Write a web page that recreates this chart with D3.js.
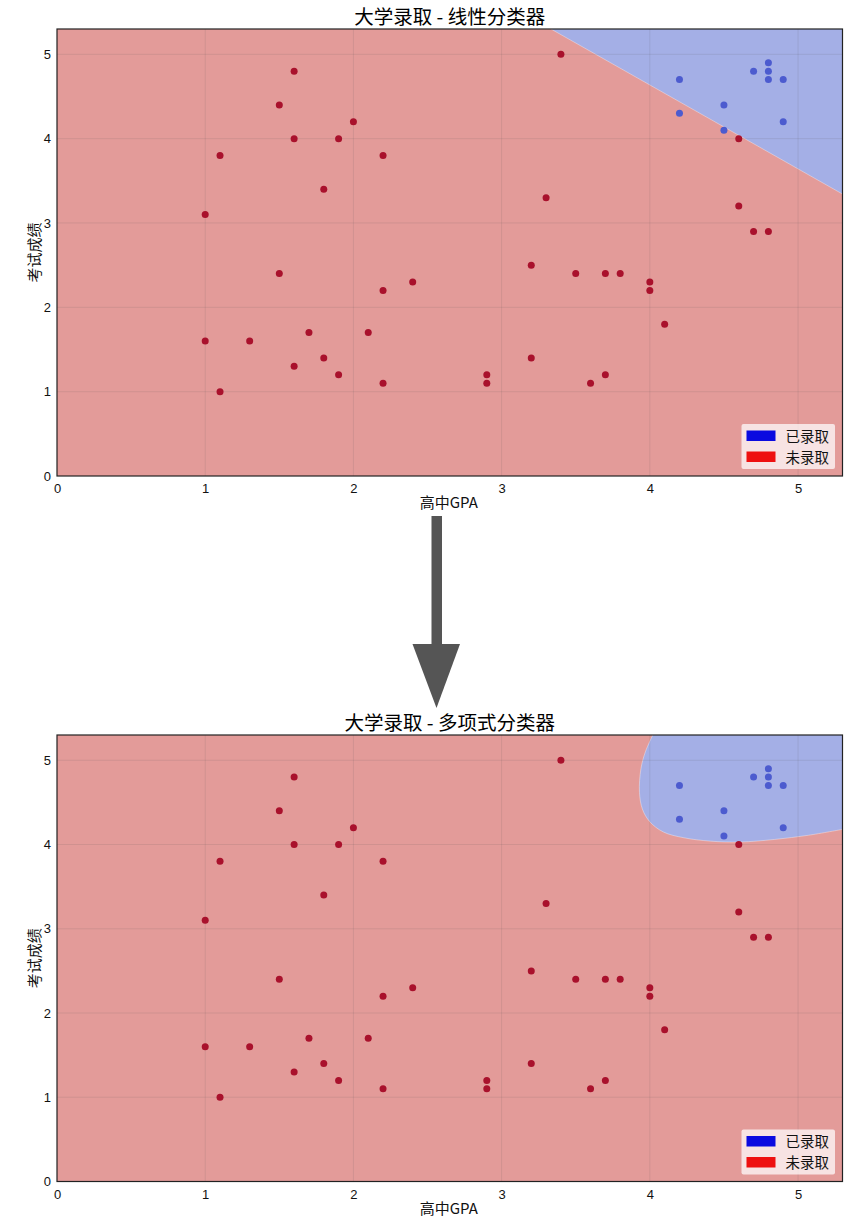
<!DOCTYPE html>
<html>
<head>
<meta charset="utf-8">
<script src="https://cdnjs.cloudflare.com/ajax/libs/d3/7.8.5/d3.min.js"></script>
<style>
  html, body { margin: 0; padding: 0; background: #fff; }
  svg { display: block; }
  text { font-family: "Noto Sans CJK SC", "Liberation Sans", sans-serif; }
</style>
</head>
<body>
<svg id="chart" width="864" height="1232"></svg>
<script>
// ---------------- Data ----------------
const rejectedGPA   = [1.6, 1.5, 2.0, 1.6, 1.9, 1.1, 2.2, 1.8, 1.0, 3.4, 3.3, 4.6, 4.6, 4.7, 4.8,
                       1.5, 2.2, 2.4, 1.0, 1.3, 1.7, 2.1, 1.8, 1.6, 1.9, 2.2, 1.1,
                       3.2, 3.5, 3.7, 3.8, 4.0, 4.0, 4.1, 3.2, 2.9, 2.9, 3.6, 3.7];
const rejectedScore = [4.8, 4.4, 4.2, 4.0, 4.0, 3.8, 3.8, 3.4, 3.1, 5.0, 3.3, 4.0, 3.2, 2.9, 2.9,
                       2.4, 2.2, 2.3, 1.6, 1.6, 1.7, 1.7, 1.4, 1.3, 1.2, 1.1, 1.0,
                       2.5, 2.4, 2.4, 2.4, 2.3, 2.2, 1.8, 1.4, 1.2, 1.1, 1.1, 1.2];
const admittedGPA   = [4.2, 4.2, 4.5, 4.5, 4.7, 4.8, 4.8, 4.8, 4.9, 4.9];
const admittedScore = [4.7, 4.3, 4.4, 4.1, 4.8, 4.9, 4.8, 4.7, 4.7, 4.2];

// decision boundaries: [GPA, score]
const linearBoundary = [[3.333, 5.3], [5.3, 3.343]];
const polyBoundary = [[4.02, 5.30], [3.97, 5.10], [3.94, 4.90], [3.93, 4.62], [3.95, 4.42],
                      [4.00, 4.27], [4.09, 4.15], [4.23, 4.08], [4.41, 4.04], [4.61, 4.03],
                      [4.84, 4.06], [5.07, 4.11], [5.30, 4.18]];

const xTicks = [0, 1, 2, 3, 4, 5];
const yTicks = [0, 1, 2, 3, 4, 5];
const titles = ["大学录取 - 线性分类器", "大学录取 - 多项式分类器"];
const xLabel = "高中GPA";
const yLabel = "考试成绩";
const legendLabels = ["已录取", "未录取"];
const domainMax = 5.3;

// ---------------- Drawing ----------------
const svg = d3.select("#chart");
const left = 57, right = 842.5;
const panels = [
  { top: 29, bottom: 476, boundary: linearBoundary, curve: d3.curveLinear, title: titles[0] },
  { top: 735, bottom: 1181.5, boundary: polyBoundary, curve: d3.curveCatmullRom, title: titles[1] }
];

const COL_RED_BG = "#e39b99";
const COL_BLUE_BG = "#a4afe6";
const COL_RED_PT = "#a9112c";
const COL_BLUE_PT = "#4c5bcf";

panels.forEach((p, i) => {
  const x = d3.scaleLinear().domain([0, domainMax]).range([left, right]);
  const y = d3.scaleLinear().domain([0, domainMax]).range([p.bottom, p.top]);
  const g = svg.append("g");

  const clipId = "clip" + i;
  g.append("clipPath").attr("id", clipId)
    .append("rect").attr("x", left).attr("y", p.top)
    .attr("width", right - left).attr("height", p.bottom - p.top);

  const plot = g.append("g").attr("clip-path", `url(#${clipId})`);

  // background: rejected region
  plot.append("rect").attr("x", left).attr("y", p.top)
    .attr("width", right - left).attr("height", p.bottom - p.top)
    .attr("fill", COL_RED_BG);

  // admitted region
  const line = d3.line().x(d => x(d[0])).y(d => y(d[1])).curve(p.curve);
  const bpath = line(p.boundary);
  plot.append("path")
    .attr("d", bpath + `L${x(domainMax + 0.2)},${y(p.boundary[p.boundary.length - 1][1])}` +
                        `L${x(domainMax + 0.2)},${y(domainMax + 0.2)}L${x(p.boundary[0][0])},${y(domainMax + 0.2)}Z`)
    .attr("fill", COL_BLUE_BG);
  plot.append("path").attr("d", bpath)
    .attr("fill", "none").attr("stroke", "#ffffff").attr("stroke-opacity", 0.35).attr("stroke-width", 1);

  // grid
  plot.append("g").selectAll("line").data(xTicks.slice(1)).join("line")
    .attr("x1", d => x(d)).attr("x2", d => x(d))
    .attr("y1", p.top).attr("y2", p.bottom)
    .attr("stroke", "#555").attr("stroke-opacity", 0.13).attr("stroke-width", 1);
  plot.append("g").selectAll("line").data(yTicks.slice(1)).join("line")
    .attr("y1", d => y(d)).attr("y2", d => y(d))
    .attr("x1", left).attr("x2", right)
    .attr("stroke", "#555").attr("stroke-opacity", 0.13).attr("stroke-width", 1);

  // points
  plot.append("g").selectAll("circle").data(rejectedGPA.map((v, k) => [v, rejectedScore[k]]))
    .join("circle").attr("cx", d => x(d[0])).attr("cy", d => y(d[1])).attr("r", 3.5)
    .attr("fill", COL_RED_PT);
  plot.append("g").selectAll("circle").data(admittedGPA.map((v, k) => [v, admittedScore[k]]))
    .join("circle").attr("cx", d => x(d[0])).attr("cy", d => y(d[1])).attr("r", 3.5)
    .attr("fill", COL_BLUE_PT);

  // frame
  g.append("rect").attr("x", left).attr("y", p.top)
    .attr("width", right - left).attr("height", p.bottom - p.top)
    .attr("fill", "none").attr("stroke", "#222").attr("stroke-width", 1.2);

  // axes (labels only, no visible tick marks)
  const xAxis = g.append("g").attr("transform", `translate(0,${p.bottom})`)
    .call(d3.axisBottom(x).tickValues(xTicks).tickFormat(d3.format("d")).tickSize(0).tickPadding(8));
  const yAxis = g.append("g").attr("transform", `translate(${left},0)`)
    .call(d3.axisLeft(y).tickValues(yTicks).tickFormat(d3.format("d")).tickSize(0).tickPadding(6));
  [xAxis, yAxis].forEach(a => {
    a.select(".domain").remove();
    a.selectAll("text").attr("font-size", 13).attr("fill", "#111")
      .style("font-family", "'Liberation Sans', Arial, sans-serif");
  });

  // title
  g.append("text").attr("x", (left + right) / 2).attr("y", p.top - 5)
    .attr("text-anchor", "middle").attr("font-size", 19.5).attr("fill", "#000").text(p.title);
  // axis labels
  g.append("text").attr("x", (left + right) / 2 - 1).attr("y", p.bottom + 32)
    .attr("text-anchor", "middle").attr("font-size", 15).attr("fill", "#111").text(xLabel);
  g.append("text")
    .attr("transform", `translate(40,${(p.top + p.bottom) / 2}) rotate(-90)`)
    .attr("text-anchor", "middle").attr("font-size", 15).attr("fill", "#111").text(yLabel);

  // legend
  const lx = 741.5, ly = p.bottom - 52;
  const lg = g.append("g");
  lg.append("rect").attr("x", lx).attr("y", ly).attr("width", 93.5).attr("height", 45)
    .attr("rx", 2).attr("fill", "#ffffff").attr("fill-opacity", 0.72);
  const legendColors = ["#0a0ae0", "#ee1010"];
  legendLabels.forEach((lab, k) => {
    lg.append("rect").attr("x", lx + 5).attr("y", ly + 6.5 + k * 21).attr("width", 29).attr("height", 10.5)
      .attr("fill", legendColors[k]);
    lg.append("text").attr("x", lx + 44).attr("y", ly + 17.5 + k * 21)
      .attr("font-size", 14.5).attr("fill", "#111").text(lab);
  });
});

// arrow between the two panels
const arrow = svg.append("g").attr("fill", "#555");
arrow.append("rect").attr("x", 431.5).attr("y", 516).attr("width", 10.5).attr("height", 130);
arrow.append("path").attr("d", "M412.5,644 L460,644 L436.5,708 Z");
</script>
</body>
</html>
